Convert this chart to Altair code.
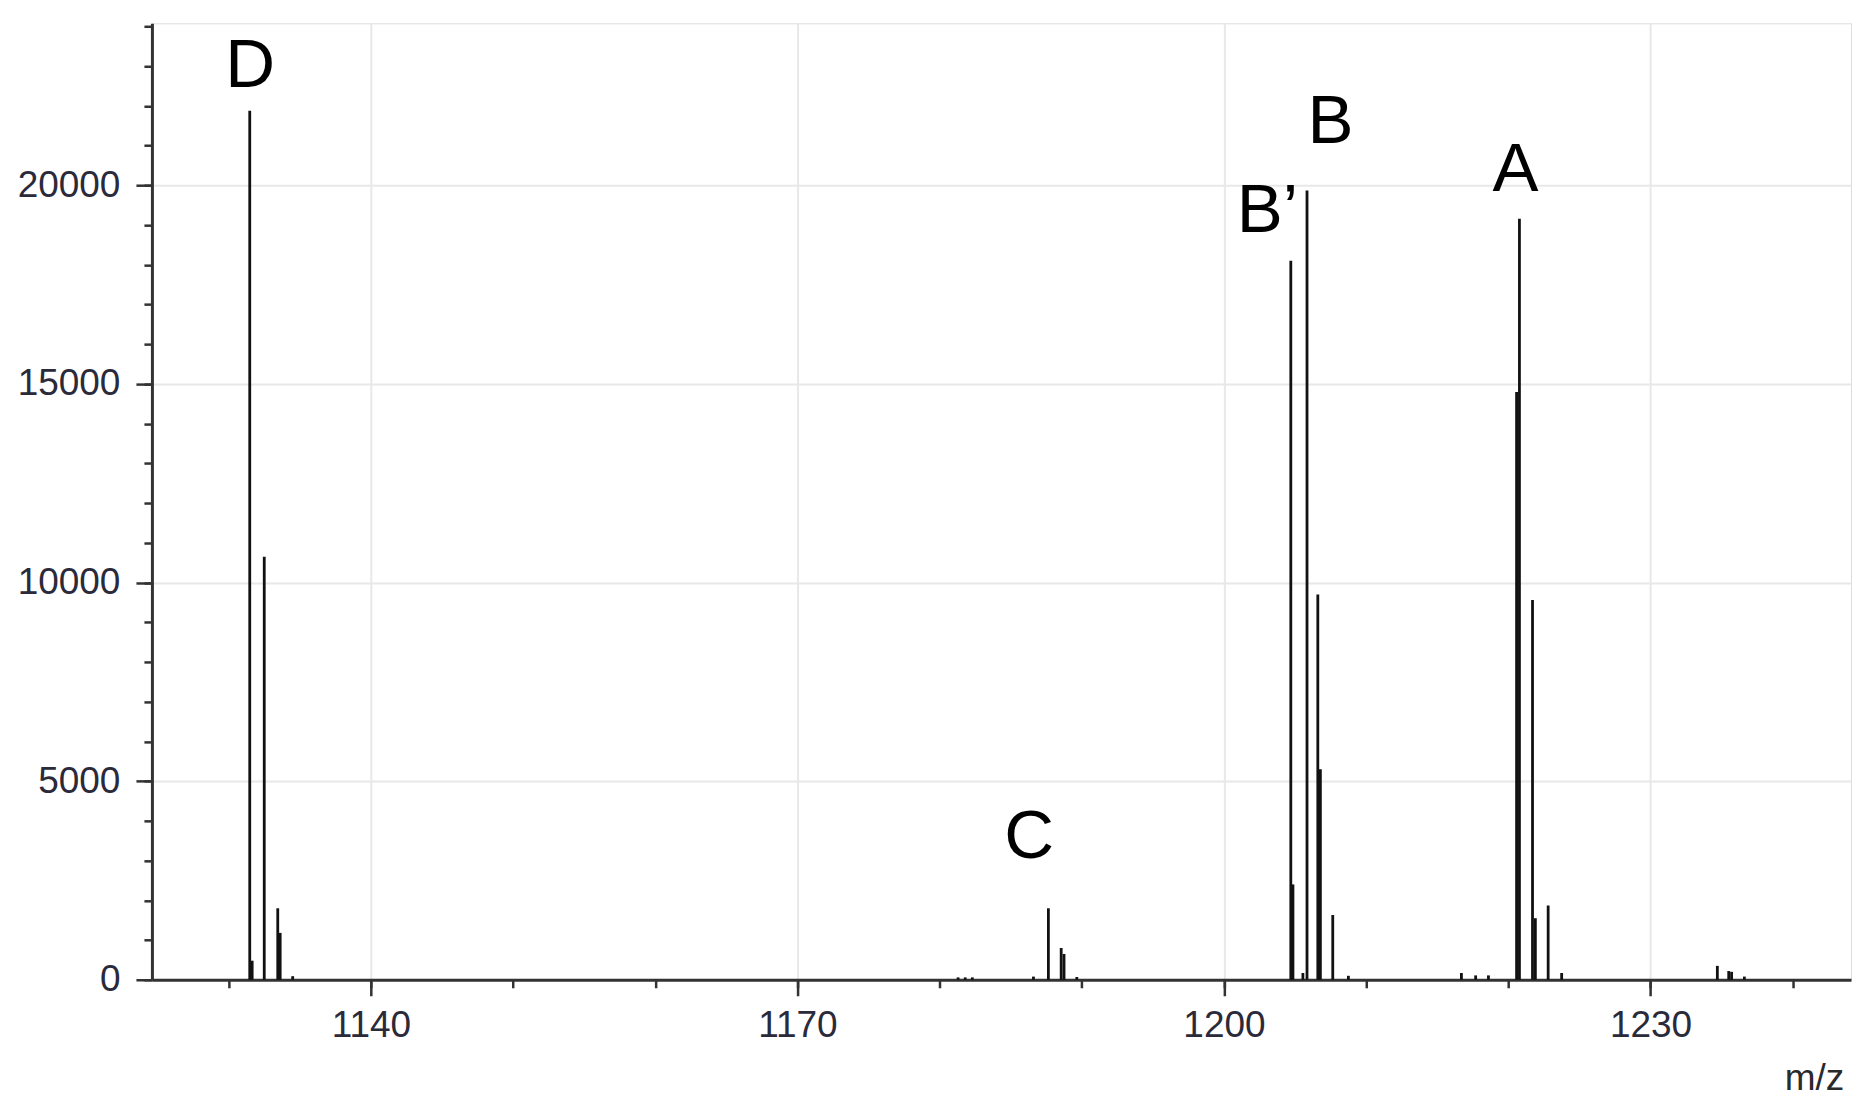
import altair as alt
import pandas as pd

# ---- data ----
mz = [1131.48, 1131.65, 1132.5, 1133.45, 1133.62, 1134.5,
      1181.3, 1181.8, 1182.3, 1186.6, 1187.65, 1188.55, 1188.75, 1189.65,
      1204.7, 1204.85, 1205.55, 1205.84, 1206.6, 1206.78, 1207.65, 1208.75,
      1216.7, 1217.7, 1218.6,
      1220.58, 1220.78, 1221.7, 1221.9, 1222.8, 1223.75,
      1234.7, 1235.5, 1235.7, 1236.6]
intensity = [21880, 480, 10650, 1800, 1180, 90,
             60, 60, 60, 80, 1800, 800, 650, 70,
             18100, 2400, 170, 19870, 9700, 5300, 1630, 100,
             170, 110, 110,
             14800, 19160, 9560, 1550, 1870, 170,
             350, 220, 200, 80]

peak_labels = ["D", "C", "B’", "B", "A"]
label_mz = [1131.5, 1186.3, 1203.05, 1207.5, 1220.5]
label_y = [22470, 3070, 18820, 21060, 19870]

x_major = [1140, 1170, 1200, 1230]
x_minor = [1130, 1140, 1150, 1160, 1170, 1180, 1190, 1200, 1210, 1220, 1230, 1240]
y_major = [0, 5000, 10000, 15000, 20000]
y_minor = list(range(0, 25000, 1000))

x_domain = [1124.6, 1244.1]
y_domain = [0, 24080]

peaks = pd.DataFrame({"mz": mz, "intensity": intensity})
labels = pd.DataFrame({"label": peak_labels, "mz": label_mz, "y": label_y})

FONT = "Liberation Sans"
xs = alt.Scale(domain=x_domain, nice=False, zero=False)
ys = alt.Scale(domain=y_domain, nice=False, zero=False)

# minor tick axes (no labels)
minor = alt.Chart(peaks).mark_point(opacity=0).encode(
    x=alt.X("mz:Q", scale=xs, axis=alt.Axis(
        orient="bottom", values=x_minor, labels=False, title=None, grid=False,
        domain=False, tickSize=8, tickWidth=2.5, tickColor="#333")),
    y=alt.Y("intensity:Q", scale=ys, axis=alt.Axis(
        orient="left", values=y_minor, labels=False, title=None, grid=False,
        domain=False, tickSize=8, tickWidth=2.5, tickColor="#333")),
)

sticks = alt.Chart(peaks).mark_rule(color="#111", strokeWidth=2.8).encode(
    x=alt.X("mz:Q", scale=xs, axis=alt.Axis(
        orient="bottom", values=x_major, format="d", title="m/z",
        grid=True, gridColor="#e8e8e8", gridWidth=2,
        domain=True, domainColor="#333", domainWidth=3,
        tickSize=16, tickWidth=2.5, tickColor="#333",
        labelFont=FONT, labelFontSize=37, labelColor="#2a2a3a", labelPadding=12,
        titleFont=FONT, titleFontSize=37, titleFontWeight="normal", titleColor="#2a2a2a",
        titleAnchor="start", titleAlign="center", titleBaseline="middle",
        titleX=1663, titleY=99)),
    y=alt.Y("intensity:Q", scale=ys, axis=alt.Axis(
        orient="left", values=y_major, format="d", title=None,
        grid=True, gridColor="#e8e8e8", gridWidth=2,
        domain=True, domainColor="#333", domainWidth=3,
        tickSize=16, tickWidth=2.5, tickColor="#333",
        labelFont=FONT, labelFontSize=37, labelColor="#2a2a3a", labelPadding=16)),
    y2=alt.datum(0),
)

text = alt.Chart(labels).mark_text(
    font=FONT, fontSize=69, color="#000", align="center", baseline="alphabetic"
).encode(
    x=alt.X("mz:Q", scale=xs, axis=None),
    y=alt.Y("y:Q", scale=ys, axis=None),
    text="label:N",
)

chart = alt.layer(minor, sticks, text).resolve_axis(
    x="independent", y="independent"
).properties(
    width=1700, height=957,
    autosize=alt.AutoSizeParams(type="none"),
    padding={"left": 144, "top": 15, "right": 10, "bottom": 130},
).configure_view(stroke="#222", strokeWidth=2.5).configure(background="white")

chart.save("out.html", embed_options={"renderer": "svg", "actions": False})
